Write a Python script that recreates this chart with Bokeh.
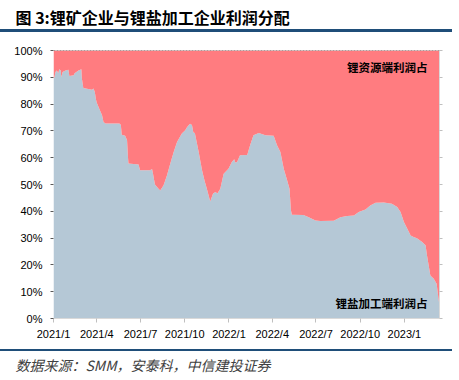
import pandas as pd
from bokeh.plotting import figure
from bokeh.layouts import column
from bokeh.models import Range1d, FixedTicker, LinearAxis, Span, Title, Div
from bokeh.core.properties import value
from bokeh.embed import file_html
from bokeh.resources import INLINE

title_text = "图 3:锂矿企业与锂盐加工企业利润分配"
source_text = "数据来源：SMM，安泰科，中信建投证券"
upper_label = "锂资源端利润占"
lower_label = "锂盐加工端利润占"

dates = [
    "2021-01-01", "2021-01-03", "2021-01-05", "2021-01-08", "2021-01-11", "2021-01-13",
    "2021-01-16", "2021-01-17", "2021-01-20", "2021-01-26", "2021-02-01", "2021-02-03",
    "2021-02-12", "2021-02-14", "2021-02-22", "2021-02-28", "2021-03-01", "2021-03-04",
    "2021-03-22", "2021-03-25", "2021-03-28", "2021-03-30", "2021-04-01", "2021-04-08",
    "2021-04-12", "2021-04-15", "2021-04-19", "2021-05-18", "2021-05-21", "2021-05-23",
    "2021-05-30", "2021-06-03", "2021-06-05", "2021-06-06", "2021-06-27", "2021-06-30",
    "2021-07-21", "2021-07-25", "2021-07-27", "2021-07-31", "2021-08-07", "2021-08-11",
    "2021-08-18", "2021-08-25", "2021-09-01", "2021-09-08", "2021-09-15", "2021-09-25",
    "2021-10-02", "2021-10-06", "2021-10-12", "2021-10-16", "2021-10-19", "2021-10-22",
    "2021-10-30", "2021-11-06", "2021-11-11", "2021-11-16", "2021-11-23", "2021-11-29",
    "2021-12-04", "2021-12-08", "2021-12-14", "2021-12-21", "2021-12-31",
    "2022-01-07", "2022-01-12", "2022-01-14", "2022-01-18", "2022-01-24", "2022-02-08",
    "2022-02-14", "2022-02-21", "2022-03-04", "2022-03-18", "2022-04-04", "2022-04-11",
    "2022-04-18", "2022-04-25", "2022-05-02", "2022-05-07", "2022-05-10", "2022-05-12",
    "2022-06-05", "2022-06-16", "2022-06-30", "2022-07-10", "2022-08-07", "2022-08-21",
    "2022-09-04", "2022-09-18", "2022-09-28", "2022-10-12", "2022-10-22", "2022-11-02",
    "2022-11-19", "2022-12-06", "2022-12-17", "2022-12-24", "2022-12-31",
    "2023-01-07", "2023-01-14", "2023-01-20", "2023-01-27", "2023-02-07", "2023-02-14",
    "2023-02-17", "2023-02-24", "2023-03-03", "2023-03-09", "2023-03-13", "2023-03-15",
]

salt_share = [
    89.5, 90.0, 92.0, 92.5, 91.5, 93.0,
    92.5, 90.0, 92.0, 92.5, 92.8, 90.5,
    90.8, 91.5, 92.5, 93.0, 89.6, 86.0,
    85.4, 85.8, 84.5, 82.0, 80.5, 77.5,
    75.8, 73.3, 72.8, 72.8, 72.3, 68.6,
    68.2, 66.5, 60.0, 57.8, 57.5, 55.3,
    55.3, 55.8, 54.0, 50.0, 48.5, 47.8,
    49.7, 53.4, 57.8, 62.1, 65.9, 69.0,
    70.2, 71.5, 72.7, 72.2, 69.4, 69.2,
    62.1, 55.3, 51.6, 48.4, 43.7, 46.6,
    47.2, 46.6, 48.4, 54.0, 55.9,
    58.4, 59.4, 58.2, 58.4, 60.9, 61.0,
    64.6, 68.4, 69.2, 68.4, 68.2, 64.6,
    62.1, 55.9, 51.6, 48.4, 40.3, 38.7,
    38.6, 37.8, 36.6, 36.4, 36.5, 37.8,
    38.2, 38.4, 39.7, 40.7, 42.2, 43.2,
    43.3, 42.8, 41.6, 39.7, 36.0,
    33.5, 31.0, 30.4, 29.9, 28.5, 27.3,
    23.5, 16.0, 14.8, 13.0, 7.3, 4.9,
]

tick_dates = ["2021-01-01", "2021-04-01", "2021-07-01", "2021-10-01", "2022-01-01",
              "2022-04-01", "2022-07-01", "2022-10-01", "2023-01-01"]
tick_labels = ["2021/1", "2021/4", "2021/7", "2021/10", "2022/1",
               "2022/4", "2022/7", "2022/10", "2023/1"]
y_ticks = [0, 10, 20, 30, 40, 50, 60, 70, 80, 90, 100]
y_tick_labels = ["0%", "10%", "20%", "30%", "40%", "50%", "60%", "70%", "80%", "90%", "100%"]

base = pd.Timestamp("2021-01-01")
days = [int((pd.Timestamp(d) - base).days) for d in dates]
tick_days = [int((pd.Timestamp(d) - base).days) for d in tick_dates]

CJK = "Noto Sans CJK SC"
LAT = "Liberation Sans"
BLUE = "#1F4E79"

FL, FR, FT, FB = 53, 20, 50, 62   # borders around the plotting frame
p = figure(width=459, height=380, x_range=Range1d(0, days[-1]), y_range=Range1d(0, 100),
           output_backend="svg", toolbar_location=None,
           min_border_left=FL, min_border_right=FR, min_border_top=FT, min_border_bottom=FB)
p.grid.visible = False
p.outline_line_color = None

p.varea(x=days, y1=0, y2=salt_share, fill_color="#B5C8D6")
p.varea(x=days, y1=salt_share, y2=100, fill_color="#FF7C80")

p.add_layout(Span(location=100, dimension="width", line_color="#595959",
                  line_width=1, line_dash="2 1"))

p.text(x=[778], y=[93.8], text=[upper_label], text_font=value(CJK), text_font_style="bold",
       text_font_size="11.5px", text_align="right", text_baseline="middle", text_color="black")
p.text(x=[778], y=[5.6], text=[lower_label], text_font=value(CJK), text_font_style="bold",
       text_font_size="11.5px", text_align="right", text_baseline="middle", text_color="black")

xa = p.xaxis[0]
xa.ticker = FixedTicker(ticks=tick_days)
xa.major_label_overrides = {d: l for d, l in zip(tick_days, tick_labels)}
xa.major_label_text_font = LAT
xa.major_label_text_font_size = "11px"
xa.major_label_text_color = "black"
xa.axis_line_color = "#D9D9D9"
xa.major_tick_line_color = "#BFBFBF"
xa.major_tick_out = 4
xa.major_tick_in = 0
xa.minor_tick_line_color = None
xa.major_label_standoff = 5

ya = p.yaxis[0]
ya.ticker = FixedTicker(ticks=y_ticks)
ya.major_label_overrides = {t: l for t, l in zip(y_ticks, y_tick_labels)}
ya.major_label_text_font = LAT
ya.major_label_text_font_size = "11px"
ya.major_label_text_color = "black"
ya.axis_line_color = None
ya.major_tick_line_color = "#595959"
ya.major_tick_out = 3
ya.major_tick_in = 0
ya.minor_tick_line_color = None
ya.major_label_standoff = 8

ra = LinearAxis(ticker=FixedTicker(ticks=[], minor_ticks=y_ticks))
ra.axis_line_color = "#D9D9D9"
ra.major_tick_line_color = None
ra.minor_tick_line_color = "#BFBFBF"
ra.minor_tick_out = 3
ra.minor_tick_in = 0
ra.major_label_standoff = 0
p.add_layout(ra, "right")


def spacer(size):
    """An undrawn axis that only reserves room in a side panel."""
    ax = LinearAxis(ticker=FixedTicker(ticks=[400]), major_tick_out=size, major_tick_in=0,
                    major_label_standoff=0, axis_line_color=None,
                    major_tick_line_color=None, minor_tick_line_color=None,
                    major_label_text_font_size="1px", major_label_text_color=None)
    return ax


# title (above) and source (below)
p.add_layout(spacer(22), "above")
p.add_layout(Title(text=title_text, align="left", offset=15 - FL, standoff=0,
                   text_font=CJK, text_font_style="bold", text_font_size="16px",
                   text_color="black"), "above")
p.add_layout(spacer(10), "below")
p.add_layout(Title(text=source_text, align="left", offset=15 - FL, standoff=0,
                   text_font=CJK, text_font_style="italic", text_font_size="14px",
                   text_color="#404040"), "below")

# the two blue rules: one transparent box whose top and bottom borders are the rules
rules = Div(text="", width=452, height=322, margin=0,
            styles={"position": "absolute", "left": "0px", "top": "29px",
                    "width": "452px", "height": "322px", "box-sizing": "border-box",
                    "border-top": f"3px solid {BLUE}", "border-bottom": f"2px solid {BLUE}",
                    "background-color": "transparent", "pointer-events": "none"})

layout = column(p, rules, spacing=0)
open("out.html", "w").write(file_html(layout, INLINE))
